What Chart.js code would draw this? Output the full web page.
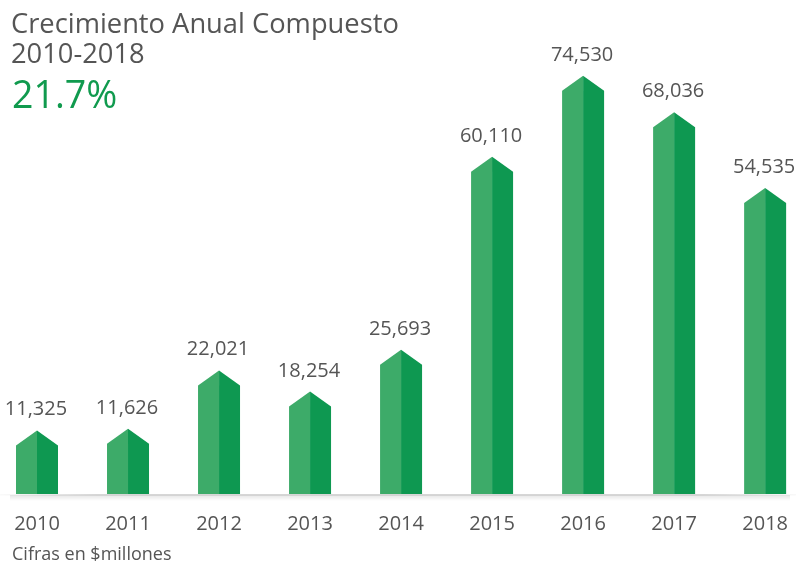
<!DOCTYPE html>
<html>
<head>
<meta charset="utf-8">
<script src="https://cdn.jsdelivr.net/npm/chart.js@4"></script>
<style>
  html, body { margin: 0; padding: 0; background: #ffffff; }
  #wrap { position: relative; width: 802px; height: 564px; overflow: hidden; font-family: "Open Sans", "DejaVu Sans", sans-serif; }
  #c { position: absolute; left: 0; top: 0; }
  .txt { position: absolute; white-space: nowrap; line-height: 1; color: #555555; }
  #t1 { left: 11px; top: 9px; font-size: 27.3px; }
  #t2 { left: 11px; top: 39px; font-size: 27.3px; }
  #t3 { left: 12px; top: 75px; font-size: 37.5px; color: #109a4e; }
  #foot { left: 12px; top: 544px; font-size: 18px; }
</style>
</head>
<body>
<div id="wrap">
  <canvas id="c" width="802" height="564"></canvas>
  <div class="txt" id="t1">Crecimiento Anual Compuesto</div>
  <div class="txt" id="t2">2010-2018</div>
  <div class="txt" id="t3">21.7%</div>
  <div class="txt" id="foot">Cifras en $millones</div>
</div>
<script>
const years = ["2010", "2011", "2012", "2013", "2014", "2015", "2016", "2017", "2018"];
const values = [11325, 11626, 22021, 18254, 25693, 60110, 74530, 68036, 54535];

const LIGHT = "#3dab69";
const DARK = "#0e9851";
const TEXT = "#555555";
const FONT = '"Open Sans", "DejaVu Sans", sans-serif';

const arrowBars = {
  id: "arrowBars",
  beforeDatasetsDraw(chart) {
    const ctx = chart.ctx;
    const y = chart.chartArea.bottom + 1;
    ctx.save();
    const g = ctx.createLinearGradient(0, 0, 800, 0);
    g.addColorStop(0, "rgba(0,0,0,0.02)");
    g.addColorStop(0.12, "rgba(0,0,0,0.16)");
    g.addColorStop(0.88, "rgba(0,0,0,0.16)");
    g.addColorStop(1, "rgba(0,0,0,0.02)");
    ctx.fillStyle = g;
    ctx.fillRect(0, y - 1, 796, 1.5);
    const gv = ctx.createLinearGradient(0, y, 0, y + 6);
    gv.addColorStop(0, "rgba(0,0,0,0.10)");
    gv.addColorStop(1, "rgba(0,0,0,0)");
    ctx.fillStyle = gv;
    ctx.fillRect(10, y, 780, 6);
    ctx.restore();
  },
  afterDatasetsDraw(chart) {
    const ctx = chart.ctx;
    const meta = chart.getDatasetMeta(0);
    ctx.save();
    meta.data.forEach((bar, i) => {
      const p = bar.getProps(["x", "y", "base", "width"], true);
      const l = p.x - p.width / 2, r = p.x + p.width / 2;
      const sh = p.width * 0.357;
      ctx.fillStyle = LIGHT;
      ctx.beginPath();
      ctx.moveTo(l, p.base);
      ctx.lineTo(l, p.y + sh);
      ctx.lineTo(p.x, p.y);
      ctx.lineTo(p.x, p.base);
      ctx.closePath();
      ctx.fill();
      ctx.fillStyle = DARK;
      ctx.beginPath();
      ctx.moveTo(p.x, p.base);
      ctx.lineTo(p.x, p.y);
      ctx.lineTo(r, p.y + sh);
      ctx.lineTo(r, p.base);
      ctx.closePath();
      ctx.fill();
      ctx.fillStyle = TEXT;
      ctx.font = "20px " + FONT;
      ctx.textAlign = "center";
      ctx.textBaseline = "alphabetic";
      ctx.fillText(values[i].toLocaleString("en-US"), p.x - 1, p.y - 15);
    });
    ctx.restore();
  }
};

new Chart(document.getElementById("c"), {
  type: "bar",
  data: {
    labels: years,
    datasets: [{
      data: values,
      backgroundColor: "rgba(0,0,0,0)",
      borderWidth: 0,
      barThickness: 42
    }]
  },
  options: {
    responsive: false,
    animation: false,
    layout: { padding: { left: 37, right: 33, top: 45, bottom: 14 } },
    plugins: { legend: { display: false }, tooltip: { enabled: false } },
    scales: {
      x: {
        offset: false,
        grid: { display: false, drawTicks: true, tickLength: 4 },
        border: { display: false },
        ticks: { color: TEXT, font: { size: 20, family: FONT }, padding: 14, maxRotation: 0 }
      },
      y: {
        display: false,
        min: 0,
        max: 80000
      }
    }
  },
  plugins: [arrowBars]
});
</script>
</body>
</html>
